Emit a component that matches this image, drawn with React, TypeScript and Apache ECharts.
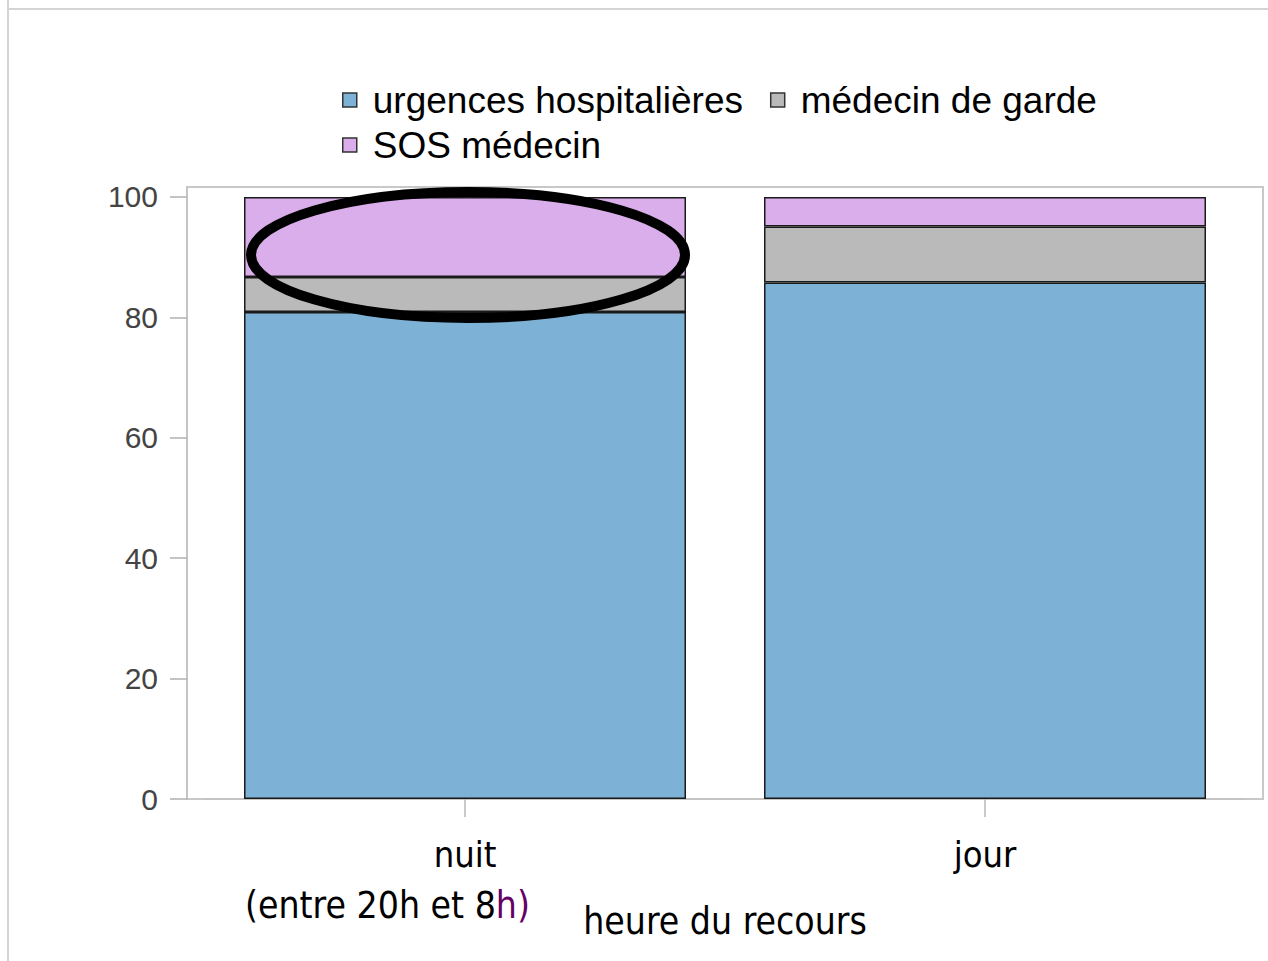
import React, { useEffect, useRef } from "react";
import * as echarts from "echarts";

const categories = ["nuit", "jour"];
const seriesNames = ["urgences hospitalières", "médecin de garde", "SOS médecin"];
const urgences = [80.9, 85.8];
const garde = [5.8, 9.3];
const sos = [13.3, 4.9];
const yTicks = [0, 20, 40, 60, 80, 100];
const colors = ["#7db1d5", "#bababa", "#daaeea"];

export default function App() {
  const ref = useRef<HTMLDivElement>(null);
  useEffect(() => {
    document.body.style.margin = "0";
    const chart = echarts.init(ref.current!, null, { renderer: "svg" });
    const values = [urgences, garde, sos];
    const condensed = "'DejaVu Sans Condensed', 'Liberation Sans Narrow', 'DejaVu Sans', sans-serif";
    chart.setOption({
      animation: false,
      backgroundColor: "#ffffff",
      color: colors,
      legend: [
        {
          data: [seriesNames[0], seriesNames[1]],
          left: 342,
          top: 80,
          padding: 0,
          itemGap: 27,
          itemWidth: 14,
          itemHeight: 14,
          icon: "rect",
          itemStyle: { borderColor: "#333", borderWidth: 1.5 },
          textStyle: { fontFamily: "'Liberation Sans', Arial, sans-serif", fontSize: 37, color: "#000", lineHeight: 40, padding: [0, 0, 0, 11] },
        },
        {
          data: [seriesNames[2]],
          left: 342,
          top: 125,
          padding: 0,
          itemWidth: 14,
          itemHeight: 14,
          icon: "rect",
          itemStyle: { borderColor: "#333", borderWidth: 1.5 },
          textStyle: { fontFamily: "'Liberation Sans', Arial, sans-serif", fontSize: 37, color: "#000", lineHeight: 40, padding: [0, 0, 0, 11] },
        },
      ],
      grid: { left: 205, right: 23, top: 187, bottom: 162, containLabel: false },
      xAxis: {
        type: "category",
        data: categories,
        boundaryGap: true,
        axisLine: { show: true, lineStyle: { color: "#c4c4c4", width: 2 } },
        axisTick: { show: true, alignWithLabel: true, length: 18, lineStyle: { color: "#b8b8b8", width: 1.5 } },
        axisLabel: { fontFamily: condensed, fontSize: 36, color: "#000", margin: 37, verticalAlign: "top" },
        name: "heure du recours",
        nameLocation: "middle",
        nameGap: 104,
        nameTextStyle: { fontFamily: condensed, fontSize: 37, color: "#000", verticalAlign: "top" },
      },
      yAxis: {
        type: "value",
        min: 0,
        max: 101.66,
        interval: 20,
        offset: 18,
        splitLine: { show: false },
        axisLine: { show: true, lineStyle: { color: "#c4c4c4", width: 2 } },
        axisTick: { show: true, length: 17, customValues: yTicks, lineStyle: { color: "#b0b0b0", width: 1.5 } },
        axisLabel: { fontFamily: "'Liberation Sans', Arial, sans-serif", fontSize: 30, color: "#444", margin: 29, customValues: yTicks },
      },
      series: seriesNames.map((name, i) => ({
        name,
        type: "bar",
        stack: "total",
        barWidth: "85%",
        data: values[i],
        itemStyle: { color: colors[i], borderColor: "#1a1a1a", borderWidth: 1.5 },
      })),
      graphic: [
        { type: "line", z: 0, shape: { x1: 8, y1: 0, x2: 8, y2: 961 }, style: { stroke: "#d4d4d4", lineWidth: 2 } },
        { type: "line", z: 0, shape: { x1: 8, y1: 9, x2: 1268, y2: 9 }, style: { stroke: "#d4d4d4", lineWidth: 2 } },
        { type: "rect", z: 0, shape: { x: 187, y: 187, width: 1076, height: 612 }, style: { fill: "none", stroke: "#c8c8c8", lineWidth: 2 } },
        {
          type: "ellipse",
          z: 100,
          shape: { cx: 468, cy: 255, rx: 217, ry: 63 },
          style: { fill: "none", stroke: "#000", lineWidth: 10 },
        },
        {
          type: "text",
          z: 100,
          x: 245,
          y: 905,
          style: {
            text: "(entre 20h et 8{p|h)}",
            fontFamily: condensed,
            fontSize: 37,
            fill: "#000",
            verticalAlign: "middle",
            rich: { p: { fill: "#660066", fontFamily: condensed, fontSize: 37 } },
          },
        },
      ],
    });
    return () => chart.dispose();
  }, []);
  return <div ref={ref} style={{ width: 1268, height: 961 }} />;
}
